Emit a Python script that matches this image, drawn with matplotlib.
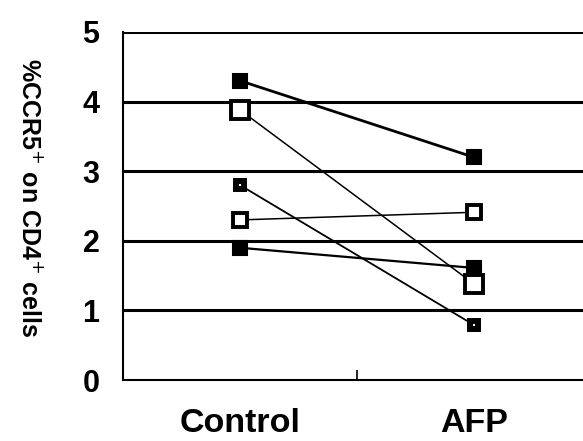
import matplotlib
matplotlib.use("Agg")
import matplotlib.pyplot as plt

categories = ["Control", "AFP"]
control = [4.3, 3.88, 2.8, 2.3, 1.9]
afp = [3.2, 1.38, 0.79, 2.41, 1.61]
yticks = [0, 1, 2, 3, 4, 5]

# styles per subject
styles = [
    dict(marker="s", ms=10, mfc="black", mec="black", mew=1.5, lw=2.0),
    dict(marker="s", ms=12.5, mfc="white", mec="black", mew=2.8, lw=1.1),
    dict(marker="s", ms=6.3, mfc="white", mec="black", mew=4.3, lw=1.3),
    dict(marker="s", ms=10, mfc="white", mec="black", mew=2.8, lw=1.1),
    dict(marker="s", ms=10, mfc="black", mec="black", mew=1.5, lw=1.6),
]

plt.rcParams['font.family'] = ['Liberation Sans', 'DejaVu Sans']

fig = plt.figure(figsize=(5.83, 4.41), dpi=100)
ax = fig.add_axes([123/583, 61/441, 468/583, 348/441])

xpos = [0.5, 1.5]
for c, a, st in zip(control, afp, styles):
    ax.plot(xpos, [c, a], color="black", zorder=3, **st)

for y in yticks[1:]:
    ax.axhline(y, color="black", lw=2.2, zorder=1)

ax.set_xlim(0, 2)
ax.set_ylim(0, 5)
ax.set_yticks(yticks)
ax.set_yticklabels([str(v) for v in yticks], fontsize=22, fontweight="bold")
ax.tick_params(axis="y", length=0, pad=17)
ax.set_xticks([1])
ax.set_xticklabels([""])
ax.tick_params(axis="x", direction="in", length=7, width=1.2)
for x, lab in zip(xpos, categories):
    ax.text(x, -0.62, lab, ha="center", va="center", fontsize=24.5,
            fontweight="bold", transform=ax.transData)

ax.spines["top"].set_visible(False)
ax.spines["right"].set_visible(False)
ax.spines["left"].set_linewidth(1.5)
ax.spines["bottom"].set_linewidth(1.5)

fig.text(29/583, 1 - 198/441, "%CCR5$^{+}$ on CD4$^{+}$ cells", rotation=-90,
         ha="center", va="center", fontsize=18, fontweight="bold")

fig.savefig("out.png", dpi=100)
